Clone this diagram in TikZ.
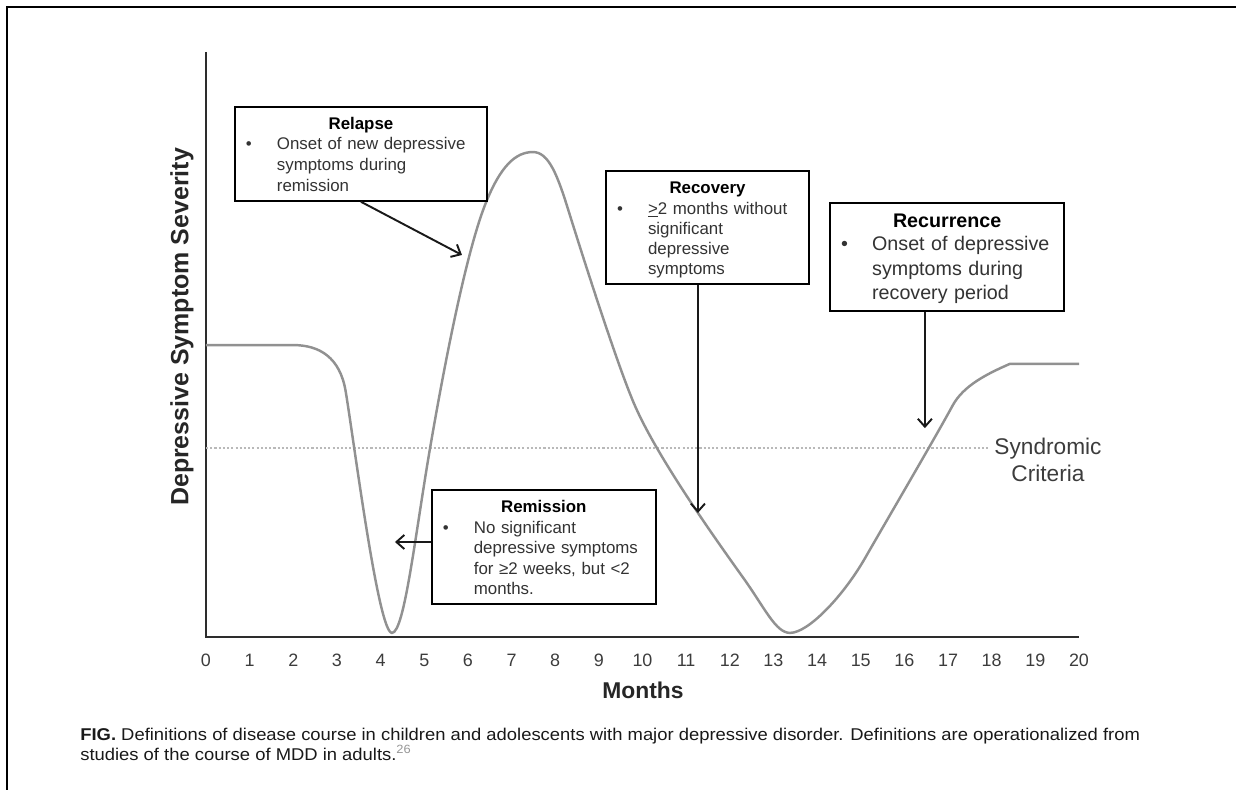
\documentclass[tikz,border=0pt]{standalone}
\usepackage{fontspec}
\setmainfont{Liberation Sans}
\setsansfont{Liberation Sans}
\newfontfamily\capfont[FakeStretch=1.08]{Liberation Sans}
\usepackage{tikz}
\usetikzlibrary{arrows.meta,positioning,calc}
\usepackage{xcolor}
\definecolor{curvegray}{RGB}{145,145,145}
\definecolor{axisgray}{RGB}{45,45,45}
\definecolor{critgray}{RGB}{185,185,185}
\definecolor{labelgray}{RGB}{60,60,60}
\definecolor{notegray}{RGB}{150,150,150}

% title line, then bullet with its lines (#3: gap under the title)
\newcommand{\coursedef}[3][1.1pt]{%
  {\centering\color{black}\bfseries\rule{0pt}{\dimexpr0.73em+4pt\relax}#2\par}%
  \vspace{#1}%
  \noindent\begin{tabular}{@{}p{0.62cm}@{}l@{}}
    \textbullet & \begin{tabular}[t]{@{}l@{}}#3\end{tabular}
  \end{tabular}}

\begin{document}
\begin{tikzpicture}[x=0.873cm, y=1.17cm,
  defbox/.style={draw=black, line width=1.1pt, fill=white, inner xsep=0.22cm,
    inner ysep=0pt, align=left, text=black!80},
  pointer/.style={-{Straight Barb[length=4.5pt,width=8pt]}, line width=1.1pt, black!90},
  course/.style={line width=1.4pt, curvegray},
  criterion/.style={line width=0.8pt, critgray, dash pattern=on 1.2pt off 1.2pt},
  ticklabel/.style={anchor=base, text=labelgray, font=\fontsize{10.2}{12}\selectfont}]
\useasboundingbox (-4.719,-2.615) rectangle (23.597,10.889);

% Frame
\draw[line width=1.1pt, black] (-4.559,-2.7) -- (-4.559,10.769) -- (23.7,10.769);

% Axes
\draw[line width=1.1pt, axisgray] (0,10) -- (0,0) -- (20,0);
\foreach \m in {0,...,20}
  \node[ticklabel] (tick\m) at (\m,-0.504) {\m};
\node[font=\bfseries\fontsize{13}{15}\selectfont, text=black!85] (xlab) at (10.01,-0.906) {Months};
\node[font=\bfseries\fontsize{14.2}{17}\selectfont, rotate=90, text=black!85] (ylab) at (-0.55,5.30)
  {Depressive Symptom Severity};

% Syndromic criteria
\node[font=\fontsize{12.9}{15.4}\selectfont, text=labelgray, align=center] (criteria) at (19.29,3.03)
  {Syndromic\\Criteria};
\coordinate (critstart) at (0,3.23);
\draw[criterion] (critstart) -- (critstart -| criteria.west);

% Symptom course
\draw[course] (0,4.99) -- (2,4.99)
  .. controls (2.6,4.99) and (3.07,4.78) .. (3.2,4.2)
  .. controls (3.4,3.3) and (3.95,0.07) .. (4.26,0.07)
  .. controls (4.55,0.07) and (4.8,1.8) .. (5.15,3.3)
  .. controls (5.45,4.6) and (5.95,6.55) .. (6.4,7.4)
  .. controls (6.75,8.06) and (7.1,8.29) .. (7.49,8.29)
  .. controls (7.85,8.29) and (8.05,7.9) .. (8.3,7.3)
  .. controls (8.6,6.58) and (9.4,4.7) .. (9.8,4.0)
  .. controls (10.3,3.12) and (11.6,1.75) .. (12.3,1.02)
  .. controls (12.8,0.5) and (13.05,0.07) .. (13.38,0.07)
  .. controls (13.8,0.07) and (14.6,0.7) .. (15.1,1.35)
  .. controls (15.6,2.0) and (16.7,3.4) .. (17.1,3.95)
  .. controls (17.35,4.3) and (17.9,4.5) .. (18.42,4.67)
  -- (20,4.67);

% Definition boxes
\node[defbox, text width=4.6cm, minimum height=1.88cm,
      font=\fontsize{9.6}{11.9}\selectfont] (relapse) at (3.55,8.26)
  {\coursedef[0pt]{Relapse}{Onset of new depressive\\ symptoms during\\ remission}};
\node[defbox, text width=3.62cm, minimum height=2.26cm,
      font=\fontsize{9.6}{11.4}\selectfont] (recovery) at (11.49,7.0)
  {\coursedef[0.6pt]{Recovery}{\underline{>}2 months without\\ significant\\ depressive\\ symptoms}};
\node[defbox, text width=4.24cm, minimum height=2.16cm,
      font=\fontsize{11.2}{14}\selectfont] (recurrence) at (16.98,6.50)
  {\coursedef[2.3pt]{Recurrence}{Onset of depressive\\ symptoms during\\ recovery period}};
\node[defbox, text width=4.04cm, minimum height=2.28cm,
      font=\fontsize{9.6}{11.6}\selectfont] (remission) at (7.74,1.54)
  {\coursedef[2.8pt]{Remission}{No significant\\ depressive symptoms\\ for ≥2 weeks, but <2\\ months.}};

% Pointers to the course
\coordinate (relapse tip) at (5.865,6.53);
\coordinate (recovery tip) at (11.27,2.12);
\coordinate (recurrence tip) at (16.47,3.57);
\coordinate (remission tip) at (4.33,1.624);
\draw[pointer] (relapse.south) -- (relapse tip);
\draw[pointer] (recovery tip |- recovery.south) -- (recovery tip);
\draw[pointer] (recurrence tip |- recurrence.south) -- (recurrence tip);
\draw[pointer] (remission.west |- remission tip) -- (remission tip);

% Caption
\node[anchor=north west, inner sep=0pt, align=left, text=black!90,
      font=\capfont\fontsize{9.7}{10.2}\selectfont] (caption) at (-2.887,-1.549)
  {\textbf{FIG.} Definitions of disease course in children and adolescents with major depressive disorder. Definitions are operationalized from\\
   studies of the course of MDD in adults.\textsuperscript{\color{notegray}26}};
\end{tikzpicture}
\end{document}
